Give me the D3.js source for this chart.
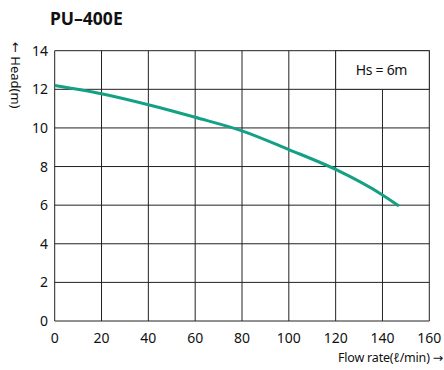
<!DOCTYPE html>
<html>
<head>
<meta charset="utf-8">
<script src="https://cdn.jsdelivr.net/npm/d3@7"></script>
<style>
  html, body { margin: 0; padding: 0; background: #fff; }
  svg { display: block; }
  text { font-family: "Noto Sans", "DejaVu Sans", sans-serif; fill: #111; }
</style>
</head>
<body>
<svg id="chart" width="444" height="370"></svg>
<script>
// Pump performance curve: flow rate vs. head
const title = "PU\u2013400E";
const flowTicks = [0, 20, 40, 60, 80, 100, 120, 140, 160];
const headTicks = [0, 2, 4, 6, 8, 10, 12, 14];
const flow = [0, 20, 40, 60, 80, 100, 120, 140, 147];
const head = [12.2, 11.77, 11.2, 10.55, 9.85, 8.88, 7.85, 6.53, 5.96];
const note = "Hs = 6m";

const svg = d3.select("#chart");
const plotLeft = 54.7, plotRight = 429.3, plotTop = 50.7, plotBottom = 321;

const x = d3.scaleLinear().domain([0, 160]).range([plotLeft, plotRight]);
const y = d3.scaleLinear().domain([0, 14]).range([plotBottom, plotTop]);

const gridColor = "#222";

// vertical grid lines
svg.append("g").selectAll("line").data(flowTicks).join("line")
  .attr("x1", d => x(d)).attr("x2", d => x(d))
  .attr("y1", y(0)).attr("y2", y(14))
  .attr("stroke", gridColor).attr("stroke-width", 1);

// horizontal grid lines
svg.append("g").selectAll("line").data(headTicks).join("line")
  .attr("x1", x(0)).attr("x2", x(160))
  .attr("y1", d => y(d)).attr("y2", d => y(d))
  .attr("stroke", gridColor).attr("stroke-width", 1);

// note box in the top-right cell pair
svg.append("rect")
  .attr("x", x(120)).attr("y", y(14))
  .attr("width", x(160) - x(120)).attr("height", y(12) - y(14))
  .attr("fill", "#fff").attr("stroke", gridColor).attr("stroke-width", 1);
svg.append("text")
  .attr("x", (x(120) + x(160)) / 2 - 1).attr("y", (y(12) + y(14)) / 2 + 5)
  .attr("text-anchor", "middle").attr("font-size", 14)
  .attr("letter-spacing", -0.3)
  .text(note);

// performance curve
const pts = flow.map((f, i) => [f, head[i]]);
svg.append("path")
  .datum(pts)
  .attr("fill", "none")
  .attr("stroke", "#13a084")
  .attr("stroke-width", 3)
  .attr("d", d3.line().x(d => x(d[0])).y(d => y(d[1])).curve(d3.curveMonotoneX));

// x tick labels
svg.append("g").selectAll("text").data(flowTicks).join("text")
  .attr("x", d => x(d)).attr("y", 343)
  .attr("text-anchor", "middle").attr("font-size", 14)
  .text(d => d);

// y tick labels
svg.append("g").selectAll("text").data(headTicks).join("text")
  .attr("x", 48).attr("y", d => y(d) + 5)
  .attr("text-anchor", "end").attr("font-size", 14)
  .text(d => d);

// title
svg.append("text")
  .attr("x", 50).attr("y", 25)
  .attr("font-size", 17.5).attr("font-weight", "bold")
  .text(title);

// axis titles
svg.append("text")
  .attr("transform", "translate(11,42) rotate(90)")
  .attr("font-size", 13)
  .text("\u2190 Head(m)");

svg.append("text")
  .attr("x", 443).attr("y", 362)
  .attr("text-anchor", "end").attr("font-size", 12.5)
  .attr("letter-spacing", -0.2)
  .text("Flow rate(\u2113/min) \u2192");
</script>
</body>
</html>
